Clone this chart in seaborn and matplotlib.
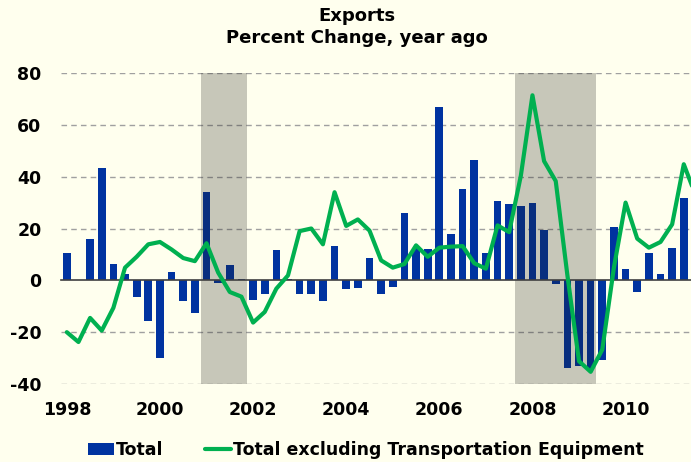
import numpy as np
import pandas as pd
import seaborn as sns
import matplotlib.pyplot as plt
from matplotlib.patches import Patch
from matplotlib.lines import Line2D

# quarterly, starting 1998 Q1
start_year = 1998
total = [10.4, 0.3, 15.8, 43.4, 6.2, 2.6, -6.3, -15.7,
         -30.0, 3.2, -8.1, -12.6, 34.0, -1.2, 5.8, 0.7,
         -7.7, -5.1, 11.6, 0.5, -5.1, -5.3, -8.1, 13.4,
         -3.3, -3.1, 8.8, -5.4, -2.5, 26.1, 12.5, 12.1,
         66.8, 18.0, 35.3, 46.6, 10.7, 30.5, 29.4, 28.6,
         29.9, 19.5, -1.4, -33.8, -33.2, -34.5, -30.6, 20.6,
         4.2, -4.5, 10.4, 2.6, 12.3, 31.6]
excl_transport = [-20.0, -23.8, -14.5, -19.4, -10.6, 4.9, 9.1, 13.9,
                  14.8, 11.9, 8.6, 7.4, 14.3, 3.0, -4.5, -6.3,
                  -16.3, -12.2, -3.2, 1.9, 19.0, 20.0, 13.9, 34.0,
                  21.0, 23.5, 19.2, 7.7, 4.9, 6.3, 13.5, 9.1,
                  12.6, 13.0, 13.2, 6.6, 4.5, 21.2, 18.6, 40.3,
                  71.4, 46.0, 38.3, 2.0, -31.2, -35.3, -26.7, 5.0,
                  30.0, 16.1, 12.6, 14.8, 21.6, 44.8, 33.0]
recessions = [(2001.0, 2002.0), (2007.75, 2009.5)]
year_ticks = [1998, 2000, 2002, 2004, 2006, 2008, 2010]
y_ticks = [-40, -20, 0, 20, 40, 60, 80]

bg = '#FFFFEE'
blue = '#0033A0'
green = '#00B050'

bars = pd.DataFrame({'date': start_year + (np.arange(len(total)) + 0.5) / 4,
                     'value': total})
line = pd.DataFrame({'date': start_year + (np.arange(len(excl_transport)) + 0.5) / 4,
                     'value': excl_transport})

sns.set_style('white')
plt.rcParams['font.family'] = ['DejaVu Sans']
plt.rcParams['font.weight'] = 'bold'
plt.rcParams['text.color'] = 'black'
plt.rcParams['xtick.color'] = 'black'
plt.rcParams['ytick.color'] = 'black'
plt.rcParams['axes.unicode_minus'] = False

fig = plt.figure(figsize=(6.91, 4.62), dpi=100, facecolor=bg)
ax = fig.add_axes([61 / 691, 1 - 384 / 462, 1 - 61 / 691, (384 - 73) / 462])
ax.set_facecolor(bg)

sns.barplot(data=bars, x='date', y='value', native_scale=True, width=0.66,
            color=blue, saturation=1, errorbar=None, ax=ax, zorder=2,
            linewidth=0)
for a, b in recessions:
    ax.axvspan(a, b, color='#23231e', alpha=0.25, lw=0, zorder=3)
sns.lineplot(data=line, x='date', y='value', color=green, linewidth=3,
             ax=ax, zorder=4)

ax.set_xlim(1998.0, 2011.53)
ax.set_ylim(-40, 80)
ax.set_xlabel('')
ax.set_ylabel('')

# dashed horizontal grid
for v in y_ticks:
    if v != 0:
        ax.axhline(v, color='#a0a0a0', lw=1, ls=(0, (4, 3)), zorder=1)

for s in ['top', 'right', 'left']:
    ax.spines[s].set_visible(False)
ax.spines['bottom'].set_position(('data', 0))
ax.spines['bottom'].set_color('#404040')
ax.spines['bottom'].set_linewidth(1.2)
ax.spines['bottom'].set_zorder(3.5)
ax.set_xticks(year_ticks)
ax.tick_params(axis='x', direction='out', length=4, width=1, color='#404040',
               labelbottom=False)
ax.set_yticks(y_ticks)
ax.tick_params(axis='y', length=0, pad=14, labelsize=12.5)
for t in ax.get_yticklabels():
    t.set_fontweight('bold')

secax = ax.secondary_xaxis('bottom')
secax.set_xticks([y + 0.125 for y in year_ticks], [str(y) for y in year_ticks])
secax.spines['bottom'].set_visible(False)
secax.tick_params(length=0, pad=12, labelsize=12.5)
for t in secax.get_xticklabels():
    t.set_fontweight('bold')

fig.text(357 / 691, 1 - 7 / 462, 'Exports\nPercent Change, year ago',
         ha='center', va='top', fontsize=13, fontweight='bold',
         linespacing=1.3)

handles = [Patch(facecolor=blue, edgecolor='none'),
           Line2D([], [], color=green, lw=3)]
fig.legend(handles, ['Total', 'Total excluding Transportation Equipment'],
           loc='center', bbox_to_anchor=(366 / 691, 1 - 450 / 462), ncol=2,
           frameon=False, prop={'weight': 'bold', 'size': 12.5},
           handlelength=1.5, handletextpad=0.1, columnspacing=2.4)

fig.savefig('out.png', dpi=100, facecolor=bg)
